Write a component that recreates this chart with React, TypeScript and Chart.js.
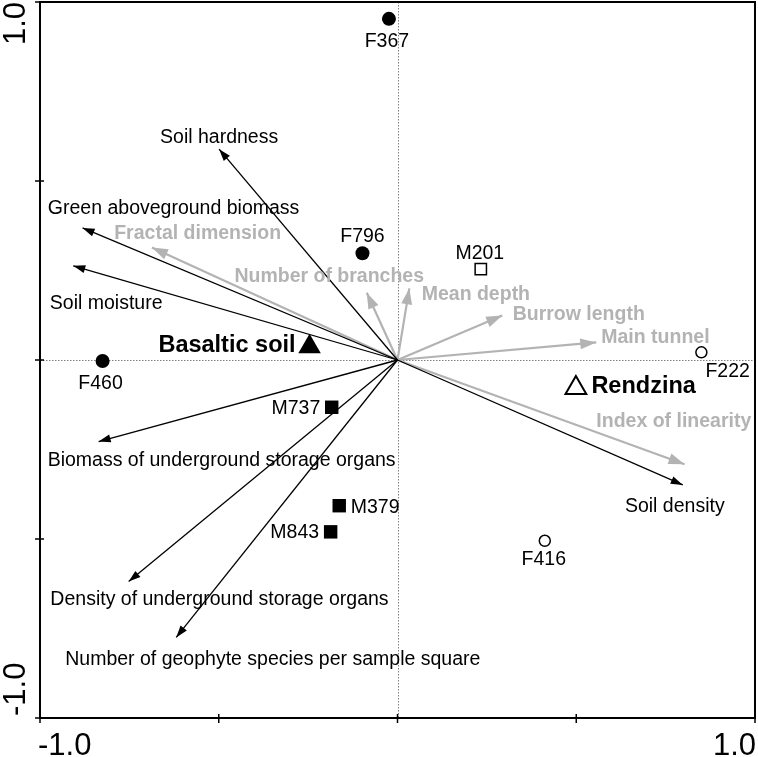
import React, { useEffect, useRef } from "react";
import { Chart, registerables } from "chart.js";
Chart.register(...registerables);

// ---- Data (ordination scores) ----
const siteNames = ["F367", "F796", "F460", "F222", "F416", "M201", "M737", "M379", "M843"];
const siteX = [-0.024, -0.098, -0.825, 0.85, 0.412, 0.233, -0.184, -0.163, -0.187];
const siteY = [0.953, 0.298, -0.003, 0.0215, -0.505, 0.254, -0.132, -0.407, -0.48];
// marker kind: sex (F circle / M square), soil (B filled / R open)
const siteKind = ["FB", "FB", "FB", "FR", "FR", "MR", "MB", "MB", "MB"];

const soilNames = ["Basaltic soil", "Rendzina"];
const soilX = [-0.246, 0.499];
const soilY = [0.037, -0.078];

const envNames = [
  "Soil hardness",
  "Green aboveground biomass",
  "Soil moisture",
  "Biomass of underground storage organs",
  "Density of underground storage organs",
  "Number of geophyte species per sample square",
  "Soil density",
];
const envX = [-0.499, -0.881, -0.907, -0.836, -0.752, -0.619, 0.798];
const envY = [0.589, 0.369, 0.263, -0.228, -0.619, -0.775, -0.349];

const burrowNames = [
  "Fractal dimension",
  "Number of branches",
  "Mean depth",
  "Burrow length",
  "Main tunnel",
  "Index of linearity",
];
const burrowX = [-0.687, -0.086, 0.033, 0.293, 0.556, 0.803];
const burrowY = [0.314, 0.188, 0.2, 0.124, 0.049, -0.291];

const axisTicks = [-1, -0.5, 0, 0.5, 1];
const axisLabels = ["-1.0", "1.0"];

// ---- Styles / label layout (pixel offsets from the mark) ----
const FONT = '"Liberation Sans", Arial, sans-serif';
const GRAY = "#b3b3b3";
const LABEL_SHIFT = 1.2;
type Lay = { dx: number; dy: number; align: CanvasTextAlign };
const siteLayout: Record<string, Lay> = {
  F367: { dx: -2, dy: 22, align: "center" },
  F796: { dx: 0, dy: -18, align: "center" },
  F460: { dx: -2, dy: 21, align: "center" },
  F222: { dx: 4, dy: 18, align: "left" },
  F416: { dx: -1, dy: 18, align: "center" },
  M201: { dx: -1, dy: -17, align: "center" },
  M737: { dx: -11.5, dy: 0, align: "right" },
  M379: { dx: 11.5, dy: 0.5, align: "left" },
  M843: { dx: -11.5, dy: 0, align: "right" },
};
const soilLayout: Record<string, Lay> = {
  "Basaltic soil": { dx: -14, dy: -2, align: "right" },
  Rendzina: { dx: 15.5, dy: -3, align: "left" },
};
const envLayout: Record<string, Lay> = {
  "Soil hardness": { dx: 0, dy: -12.5, align: "center" },
  "Green aboveground biomass": { dx: -34.7, dy: -20.7, align: "left" },
  "Soil moisture": { dx: -23.4, dy: 36.7, align: "left" },
  "Biomass of underground storage organs": { dx: -51, dy: 18.3, align: "left" },
  "Density of underground storage organs": { dx: -78.3, dy: 16.6, align: "left" },
  "Number of geophyte species per sample square": { dx: -111, dy: 21, align: "left" },
  "Soil density": { dx: -8, dy: 20.7, align: "center" },
};
const burrowLayout: Record<string, Lay> = {
  "Fractal dimension": { dx: -37.7, dy: -15, align: "left" },
  "Number of branches": { dx: 57.3, dy: -17.7, align: "right" },
  "Mean depth": { dx: 12.4, dy: 5, align: "left" },
  "Burrow length": { dx: 10.4, dy: -2.4, align: "left" },
  "Main tunnel": { dx: 5, dy: -6.3, align: "left" },
  "Index of linearity": { dx: 66.7, dy: -44, align: "right" },
};

function drawHead(ctx: CanvasRenderingContext2D, x0: number, y0: number, x1: number, y1: number, len: number, wid: number, color: string) {
  const a = Math.atan2(y1 - y0, x1 - x0);
  ctx.save();
  ctx.translate(x1, y1);
  ctx.rotate(a);
  ctx.beginPath();
  ctx.moveTo(0, 0);
  ctx.lineTo(-len, wid / 2);
  ctx.lineTo(-len, -wid / 2);
  ctx.closePath();
  ctx.fillStyle = color;
  ctx.fill();
  ctx.restore();
}

const biplotPlugin = {
  id: "biplot",
  beforeDatasetsDraw(chart: any) {
    const { ctx, chartArea, scales } = chart;
    const x0 = scales.x.getPixelForValue(0);
    const y0 = scales.y.getPixelForValue(0);
    ctx.save();
    ctx.strokeStyle = "#808080";
    ctx.lineWidth = 1;
    ctx.setLineDash([1.5, 1.5]);
    ctx.beginPath();
    ctx.moveTo(Math.round(x0) + 0.5, chartArea.top);
    ctx.lineTo(Math.round(x0) + 0.5, chartArea.bottom);
    ctx.moveTo(chartArea.left, Math.round(y0) + 0.5);
    ctx.lineTo(chartArea.right, Math.round(y0) + 0.5);
    ctx.stroke();
    ctx.restore();
  },
  afterDatasetDraw(chart: any, args: any) {
    const ds = chart.data.datasets[args.index] as any;
    if (!ds.arrow) return;
    const meta = chart.getDatasetMeta(args.index);
    const p0 = meta.data[0];
    const p1 = meta.data[1];
    const gray = ds.arrow === "gray";
    drawHead(chart.ctx, p0.x, p0.y, p1.x, p1.y, gray ? 16 : 12, gray ? 11 : 8, gray ? GRAY : "#000");
  },
  afterDatasetsDraw(chart: any) {
    const { ctx, scales } = chart;
    const px = (v: number) => scales.x.getPixelForValue(v);
    const py = (v: number) => scales.y.getPixelForValue(v);
    ctx.save();
    ctx.textBaseline = "middle";
    const put = (t: string, x: number, y: number, l: Lay) => {
      ctx.textAlign = l.align;
      ctx.fillText(t, x + l.dx, y + l.dy + LABEL_SHIFT);
    };
    ctx.font = `19.5px ${FONT}`;
    ctx.fillStyle = "#000";
    envNames.forEach((n, i) => put(n, px(envX[i]), py(envY[i]), envLayout[n]));
    siteNames.forEach((n, i) => put(n, px(siteX[i]), py(siteY[i]), siteLayout[n]));
    ctx.font = `bold 19.5px ${FONT}`;
    ctx.fillStyle = GRAY;
    burrowNames.forEach((n, i) => put(n, px(burrowX[i]), py(burrowY[i]), burrowLayout[n]));
    ctx.font = `bold 23.5px ${FONT}`;
    ctx.fillStyle = "#000";
    soilNames.forEach((n, i) => put(n, px(soilX[i]), py(soilY[i]), soilLayout[n]));
    ctx.restore();
  },
  afterDraw(chart: any) {
    const { ctx, chartArea: a, scales } = chart;
    ctx.save();
    ctx.strokeStyle = "#000";
    ctx.lineWidth = 2;
    ctx.strokeRect(a.left, a.top, a.right - a.left, a.bottom - a.top);
    ctx.lineWidth = 1.5;
    ctx.beginPath();
    axisTicks.forEach((v) => {
      const y = scales.y.getPixelForValue(v);
      ctx.moveTo(a.left - 5, y);
      ctx.lineTo(a.left + 4, y);
      const x = scales.x.getPixelForValue(v);
      ctx.moveTo(x, a.bottom - 4);
      ctx.lineTo(x, a.bottom + 5);
    });
    ctx.stroke();
    ctx.fillStyle = "#000";
    ctx.font = `31px ${FONT}`;
    ctx.textBaseline = "alphabetic";
    // x axis labels
    ctx.textAlign = "left";
    ctx.fillText(axisLabels[0], scales.x.getPixelForValue(-1) - 2, a.bottom + 37);
    ctx.textAlign = "right";
    ctx.fillText(axisLabels[1], scales.x.getPixelForValue(1) + 1, a.bottom + 37);
    // y axis labels (rotated)
    const bx = a.left - 15;
    ctx.save();
    ctx.translate(bx, scales.y.getPixelForValue(1));
    ctx.rotate(-Math.PI / 2);
    ctx.textAlign = "right";
    ctx.fillText(axisLabels[1], 0, 0);
    ctx.restore();
    ctx.save();
    ctx.translate(bx, scales.y.getPixelForValue(-1) - 2);
    ctx.rotate(-Math.PI / 2);
    ctx.textAlign = "left";
    ctx.fillText(axisLabels[0], 0, 0);
    ctx.restore();
    ctx.restore();
  },
};

export default function App() {
  const ref = useRef<HTMLCanvasElement>(null);
  useEffect(() => {
    document.body.style.margin = "0";
    const canvas = ref.current!;
    const pick = (k: string) =>
      siteNames.map((_, i) => i).filter((i) => siteKind[i] === k).map((i) => ({ x: siteX[i], y: siteY[i] }));

    const datasets: any[] = [];
    // points (drawn on top)
    datasets.push(
      { data: pick("FB"), pointStyle: "circle", pointRadius: 7, backgroundColor: "#000", borderColor: "#000", borderWidth: 0, order: 0 },
      { data: pick("FR"), pointStyle: "circle", pointRadius: 5.5, backgroundColor: "#fff", borderColor: "#000", borderWidth: 1.5, order: 0 },
      { data: pick("MB"), pointStyle: "rect", pointRadius: 9.5, backgroundColor: "#000", borderColor: "#000", borderWidth: 0, order: 0 },
      { data: pick("MR"), pointStyle: "rect", pointRadius: 8, backgroundColor: "#fff", borderColor: "#000", borderWidth: 1.5, order: 0 },
      { data: [{ x: soilX[0], y: soilY[0] }], pointStyle: "triangle", pointRadius: 13, backgroundColor: "#000", borderColor: "#000", borderWidth: 0, order: 0 },
      { data: [{ x: soilX[1], y: soilY[1] }], pointStyle: "triangle", pointRadius: 12, backgroundColor: "#fff", borderColor: "#000", borderWidth: 2, order: 0 }
    );
    envNames.forEach((_, i) =>
      datasets.push({
        data: [{ x: 0, y: 0 }, { x: envX[i], y: envY[i] }],
        showLine: true, pointRadius: 0, borderColor: "#000", borderWidth: 1.3, arrow: "black", order: 1,
      })
    );
    burrowNames.forEach((_, i) =>
      datasets.push({
        data: [{ x: 0, y: 0 }, { x: burrowX[i], y: burrowY[i] }],
        showLine: true, pointRadius: 0, borderColor: GRAY, borderWidth: 2.2, arrow: "gray", order: 2,
      })
    );

    const chart = new Chart(canvas, {
      type: "scatter",
      data: { datasets },
      options: {
        animation: false,
        responsive: false,
        events: [],
        layout: { autoPadding: false, padding: { left: 40, right: 3, top: 2, bottom: 39 } },
        plugins: { legend: { display: false }, tooltip: { enabled: false } },
        scales: {
          x: { type: "linear", min: -1, max: 1, display: false },
          y: { type: "linear", min: -1, max: 1, display: false },
        },
      },
      plugins: [biplotPlugin as any],
    });
    return () => chart.destroy();
  }, []);
  return (
    <div style={{ position: "absolute", left: 0, top: 0, width: 758, height: 757, background: "#fff" }}>
      <canvas ref={ref} width={758} height={757} style={{ display: "block" }} />
    </div>
  );
}
